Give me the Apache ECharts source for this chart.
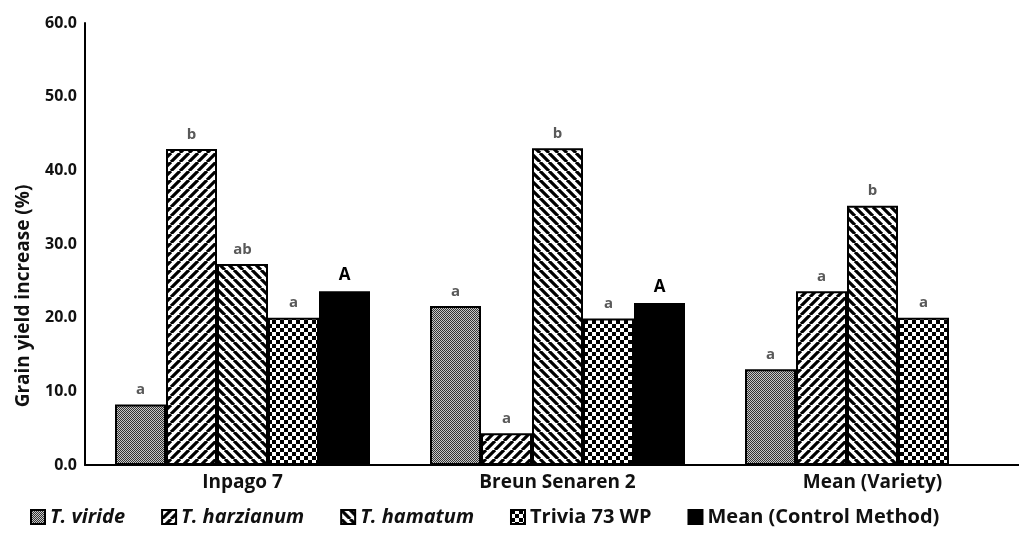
<!DOCTYPE html>
<html>
<head>
<meta charset="utf-8">
<script src="https://cdn.jsdelivr.net/npm/echarts@6/dist/echarts.min.js"></script>
<style>html,body{margin:0;padding:0;background:#fff}#c{width:1019px;height:534px}</style>
</head>
<body>
<div id="c"></div>
<script>
const categories = ['Inpago 7', 'Breun Senaren 2', 'Mean (Variety)'];
const seriesNames = ['T. viride', 'T. harzianum', 'T. hamatum', 'Trivia 73 WP', 'Mean (Control Method)'];
const viride = [8.2, 21.6, 13.0];
const harzianum = [42.9, 4.3, 23.6];
const hamatum = [27.3, 43.0, 35.2];
const trivia = [20.0, 19.9, 20.0];
const meanControl = [23.6, 22.0, null];
const viridLetters = ['a', 'a', 'a'];
const harzLetters = ['b', 'a', 'a'];
const hamLetters = ['ab', 'b', 'b'];
const triviaLetters = ['a', 'a', 'a'];
const meanLetters = ['A', 'A', ''];
const yTicks = [0, 10, 20, 30, 40, 50, 60];

function pattern(kind) {
  const c = document.createElement('canvas');
  const ctx = c.getContext('2d');
  if (kind === 'dots') {
    c.width = 2; c.height = 2;
    ctx.fillStyle = '#c8c8c8'; ctx.fillRect(0, 0, 2, 2);
    ctx.fillStyle = '#333'; ctx.fillRect(0, 0, 1, 1); ctx.fillRect(1, 1, 1, 1);
  } else if (kind === 'fwd' || kind === 'back') {
    const s = 9;
    c.width = s; c.height = s;
    ctx.fillStyle = '#fff'; ctx.fillRect(0, 0, s, s);
    ctx.strokeStyle = '#000'; ctx.lineWidth = 3.2;
    ctx.beginPath();
    for (let k = -1; k <= 1; k++) {
      if (kind === 'fwd') { ctx.moveTo(k * s, s); ctx.lineTo(k * s + s, 0); }
      else { ctx.moveTo(k * s, 0); ctx.lineTo(k * s + s, s); }
    }
    ctx.stroke();
  } else if (kind === 'check') {
    const q = 4;
    c.width = 2 * q; c.height = 2 * q;
    ctx.fillStyle = '#fff'; ctx.fillRect(0, 0, 2 * q, 2 * q);
    ctx.fillStyle = '#000'; ctx.fillRect(0, 0, q, q); ctx.fillRect(q, q, q, q);
  }
  return { image: c, repeat: 'repeat' };
}

const fills = [pattern('dots'), pattern('fwd'), pattern('back'), pattern('check'), '#000'];
const values = [viride, harzianum, hamatum, trivia, meanControl];
const letters = [viridLetters, harzLetters, hamLetters, triviaLetters, meanLetters];
const FONT = 'Open Sans';

const chart = echarts.init(document.getElementById('c'), null, { renderer: 'canvas' });
chart.setOption({
  animation: false,
  backgroundColor: '#fff',
  grid: { left: 85, width: 945, top: 23, bottom: 69, containLabel: false, outerBoundsMode: 'none' },
  legend: {
    left: 25, bottom: 2, icon: 'rect', itemWidth: 14, itemHeight: 14, itemGap: 36,
    textStyle: { fontFamily: FONT, fontWeight: 'bold', fontSize: 20, color: '#111' },
    data: seriesNames.map((n, i) => ({ name: n, textStyle: { fontStyle: i < 3 ? 'italic' : 'normal' } }))
  },
  xAxis: {
    type: 'category', data: categories,
    axisLine: { lineStyle: { color: '#000', width: 2 } },
    axisTick: { show: false },
    axisLabel: { fontFamily: FONT, fontWeight: 'bold', fontSize: 19, color: '#111', margin: 8 }
  },
  yAxis: {
    type: 'value', min: 0, max: 60, interval: 10,
    name: 'Grain yield increase (%)', nameLocation: 'middle', nameGap: 52,
    nameTextStyle: { fontFamily: FONT, fontWeight: 'bold', fontSize: 19, color: '#111', padding: [0, 104, 0, 0] },
    axisLine: { show: true, lineStyle: { color: '#000', width: 2 } },
    axisTick: { show: false },
    splitLine: { show: false },
    axisLabel: { fontFamily: FONT, fontWeight: 'bold', fontSize: 16, color: '#111', margin: 8,
      formatter: v => yTicks.includes(v) ? v.toFixed(1) : '' }
  },
  series: seriesNames.map((n, i) => ({
    name: n, type: 'bar', barWidth: 51, barGap: '0%', barCategoryGap: '19%',
    data: values[i].map(v => v == null ? '-' : v),
    itemStyle: { color: fills[i], borderColor: '#000', borderWidth: 2 },
    label: {
      show: true, position: 'top', distance: 7,
      formatter: p => letters[i][p.dataIndex],
      fontFamily: FONT, fontWeight: 'bold',
      fontSize: i === 4 ? 17 : 15,
      color: i === 4 ? '#000' : '#595959'
    }
  }))
});
</script>
</body>
</html>
